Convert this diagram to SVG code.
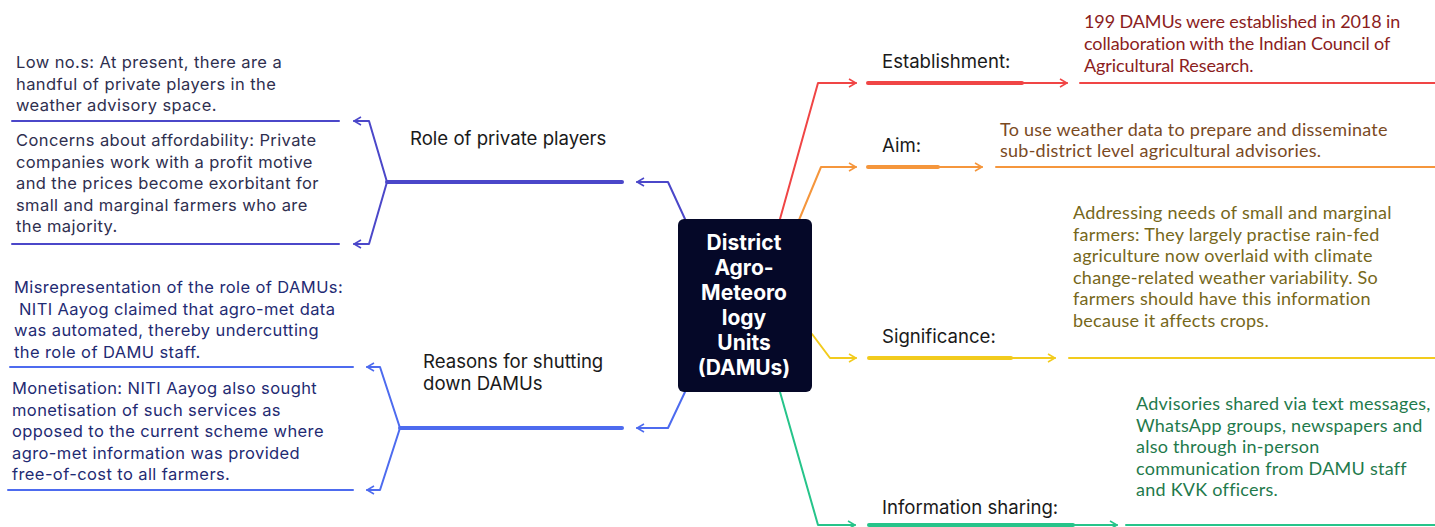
<svg xmlns="http://www.w3.org/2000/svg" width="1435" height="527" viewBox="0 0 1435 527">
<style>
.lbl{font-family:Inter,"Liberation Sans",sans-serif;font-size:18.6px;fill:#1a1a1a}
.lt{font-family:Inter,"Liberation Sans",sans-serif;font-size:16.5px;letter-spacing:0.4px}
.rt{font-family:Lato,"Liberation Sans",sans-serif;font-size:18px;letter-spacing:0.25px}
.rt2{font-family:Lato,"Liberation Sans",sans-serif;font-size:18px;letter-spacing:-0.1px}
.ttl{font-family:Inter,"Liberation Sans",sans-serif;font-size:21px;font-weight:700;fill:#ffffff;text-anchor:middle}
.c{fill:none;stroke-linecap:round;stroke-linejoin:round}
.th{stroke-width:4}
.tn{stroke-width:2}
</style>
<defs>
<marker id="aP" viewBox="0 0 10 10" refX="9" refY="5" markerUnits="userSpaceOnUse" markerWidth="10" markerHeight="10" orient="auto"><path d="M2,1 L9,5 L2,9" fill="none" stroke="#4b47c9" stroke-width="1.6"/></marker>
<marker id="aB" viewBox="0 0 10 10" refX="9" refY="5" markerUnits="userSpaceOnUse" markerWidth="10" markerHeight="10" orient="auto"><path d="M2,1 L9,5 L2,9" fill="none" stroke="#4d6bef" stroke-width="1.6"/></marker>
<marker id="aR" viewBox="0 0 10 10" refX="9" refY="5" markerUnits="userSpaceOnUse" markerWidth="10" markerHeight="10" orient="auto"><path d="M2,1 L9,5 L2,9" fill="none" stroke="#f04545" stroke-width="1.6"/></marker>
<marker id="aO" viewBox="0 0 10 10" refX="9" refY="5" markerUnits="userSpaceOnUse" markerWidth="10" markerHeight="10" orient="auto"><path d="M2,1 L9,5 L2,9" fill="none" stroke="#f5963c" stroke-width="1.6"/></marker>
<marker id="aY" viewBox="0 0 10 10" refX="9" refY="5" markerUnits="userSpaceOnUse" markerWidth="10" markerHeight="10" orient="auto"><path d="M2,1 L9,5 L2,9" fill="none" stroke="#f2cb1d" stroke-width="1.6"/></marker>
<marker id="aG" viewBox="0 0 10 10" refX="9" refY="5" markerUnits="userSpaceOnUse" markerWidth="10" markerHeight="10" orient="auto"><path d="M2,1 L9,5 L2,9" fill="none" stroke="#26c48a" stroke-width="1.6"/></marker>
</defs>

<g id="connectors">
  <!-- left top: role of private players -->
  <g stroke="#4b47c9" class="c">
    <path class="tn" d="M685,219 L668,182 L637,182" marker-end="url(#aP)"/>
    <path class="th" d="M622,182 L387,182"/>
    <path class="tn" d="M387,182 L369,121 L354,121" marker-end="url(#aP)"/>
    <path class="tn" d="M387,182 L369,244 L354,244" marker-end="url(#aP)"/>
    <path class="tn" d="M12,121 L339,121"/>
    <path class="tn" d="M12,244 L339,244"/>
  </g>
  <!-- left bottom: reasons -->
  <g stroke="#4d6bef" class="c">
    <path class="tn" d="M685,392 L668,428 L637,428" marker-end="url(#aB)"/>
    <path class="th" d="M622,428 L400,428"/>
    <path class="tn" d="M400,428 L380,367 L367,367" marker-end="url(#aB)"/>
    <path class="tn" d="M400,428 L380,490 L367,490" marker-end="url(#aB)"/>
    <path class="tn" d="M10,367 L353,367"/>
    <path class="tn" d="M8,490 L353,490"/>
  </g>
  <!-- red -->
  <g stroke="#f04545" class="c">
    <path class="tn" d="M780,219 L818,83 L856,83" marker-end="url(#aR)"/>
    <path class="th" d="M868,83 L1022,83"/>
    <path class="tn" d="M1022,83 L1067,83" marker-end="url(#aR)"/>
    <path class="tn" d="M1080,83 L1436,83"/>
  </g>
  <!-- orange -->
  <g stroke="#f5963c" class="c">
    <path class="tn" d="M799,220 L821,167 L856,167" marker-end="url(#aO)"/>
    <path class="th" d="M868,167 L938,167"/>
    <path class="tn" d="M938,167 L982,167" marker-end="url(#aO)"/>
    <path class="tn" d="M996,167 L1436,167"/>
  </g>
  <!-- yellow -->
  <g stroke="#f2cb1d" class="c">
    <path class="tn" d="M812,334 L830,358 L856,358" marker-end="url(#aY)"/>
    <path class="th" d="M869,358 L1011,358"/>
    <path class="tn" d="M1011,358 L1055,358" marker-end="url(#aY)"/>
    <path class="tn" d="M1069,358 L1436,358"/>
  </g>
  <!-- green -->
  <g stroke="#26c48a" class="c">
    <path class="tn" d="M780,392 L818,525 L855,525" marker-end="url(#aG)"/>
    <path class="th" d="M869,525 L1073,525"/>
    <path class="tn" d="M1073,525 L1117,525" marker-end="url(#aG)"/>
    <path class="tn" d="M1126,525 L1436,525"/>
  </g>
</g>

<g id="center">
  <rect x="678" y="219" width="134" height="173" rx="6" fill="#050828"/>
  <text class="ttl"><tspan x="744" y="250">District</tspan><tspan x="744" y="275">Agro-</tspan><tspan x="744" y="300">Meteoro</tspan><tspan x="744" y="325">logy</tspan><tspan x="744" y="350">Units</tspan><tspan x="744" y="375">(DAMUs)</tspan></text>
</g>

<g id="role-private">
  <text class="lbl" x="410" y="145">Role of private players</text>
</g>
<g id="low-nos">
  <text class="lt" fill="#2f2f4f"><tspan x="16" y="68">Low no.s: At present, there are a</tspan><tspan x="16" y="89.5">handful of private players in the</tspan><tspan x="16" y="111">weather advisory space.</tspan></text>
</g>
<g id="affordability">
  <text class="lt" fill="#2f2f4f"><tspan x="16" y="146">Concerns about affordability: Private</tspan><tspan x="16" y="167.5">companies work with a profit motive</tspan><tspan x="16" y="189">and the prices become exorbitant for</tspan><tspan x="16" y="210.5">small and marginal farmers who are</tspan><tspan x="16" y="232">the majority.</tspan></text>
</g>

<g id="reasons">
  <text class="lbl"><tspan x="423" y="368">Reasons for shutting</tspan><tspan x="423" y="390">down DAMUs</tspan></text>
</g>
<g id="misrepresentation">
  <text class="lt" fill="#1f2b73"><tspan x="14" y="293">Misrepresentation of the role of DAMUs:</tspan><tspan x="19" y="314.5">NITI Aayog claimed that agro-met data</tspan><tspan x="14" y="336">was automated, thereby undercutting</tspan><tspan x="14" y="357.5">the role of DAMU staff.</tspan></text>
</g>
<g id="monetisation">
  <text class="lt" fill="#1f2b73"><tspan x="12" y="394">Monetisation: NITI Aayog also sought</tspan><tspan x="12" y="415.5">monetisation of such services as</tspan><tspan x="12" y="437">opposed to the current scheme where</tspan><tspan x="12" y="458.5">agro-met information was provided</tspan><tspan x="12" y="480">free-of-cost to all farmers.</tspan></text>
</g>

<g id="establishment">
  <text class="lbl" x="882" y="68">Establishment:</text>
</g>
<g id="establishment-detail">
  <text class="rt2" fill="#8b1d1d"><tspan x="1084" y="28">199 DAMUs were established in 2018 in</tspan><tspan x="1084" y="50">collaboration with the Indian Council of</tspan><tspan x="1084" y="72">Agricultural Research.</tspan></text>
</g>
<g id="aim">
  <text class="lbl" x="882" y="152">Aim:</text>
</g>
<g id="aim-detail">
  <text class="rt" fill="#7a4a1f"><tspan x="1000" y="136">To use weather data to prepare and disseminate</tspan><tspan x="1000" y="157">sub-district level agricultural advisories.</tspan></text>
</g>
<g id="significance">
  <text class="lbl" x="882" y="343">Significance:</text>
</g>
<g id="significance-detail">
  <text class="rt" fill="#76671a"><tspan x="1073" y="219">Addressing needs of small and marginal</tspan><tspan x="1073" y="240.5">farmers: They largely practise rain-fed</tspan><tspan x="1073" y="262">agriculture now overlaid with climate</tspan><tspan x="1073" y="283.5">change-related weather variability. So</tspan><tspan x="1073" y="305">farmers should have this information</tspan><tspan x="1073" y="326.5">because it affects crops.</tspan></text>
</g>
<g id="information-sharing">
  <text class="lbl" x="882" y="514">Information sharing:</text>
</g>
<g id="information-detail">
  <text class="rt" fill="#1f7a4c"><tspan x="1136" y="410">Advisories shared via text messages,</tspan><tspan x="1136" y="431.5">WhatsApp groups, newspapers and</tspan><tspan x="1136" y="453">also through in-person</tspan><tspan x="1136" y="474.5">communication from DAMU staff</tspan><tspan x="1136" y="496">and KVK officers.</tspan></text>
</g>
</svg>
